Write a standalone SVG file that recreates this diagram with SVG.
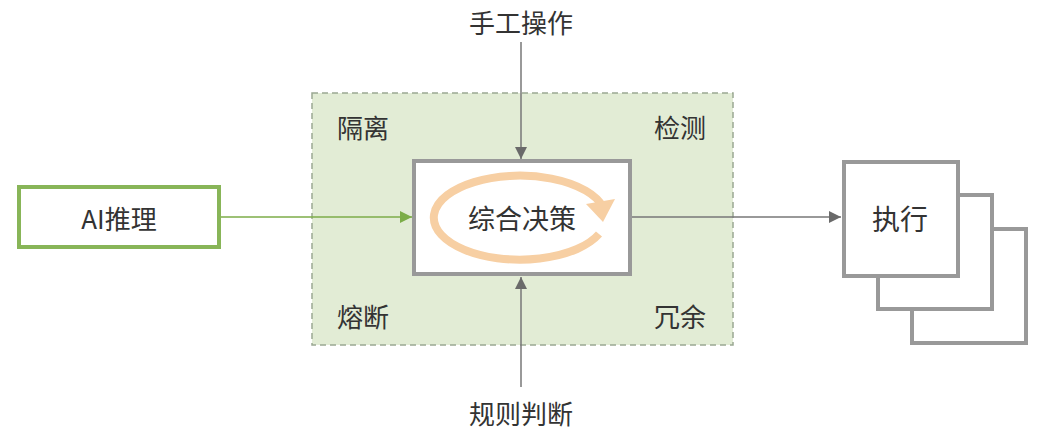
<svg xmlns="http://www.w3.org/2000/svg" width="1038" height="434" viewBox="0 0 1038 434">
<defs>
<style>
text{font-family:"Noto Sans CJK SC","Liberation Sans",sans-serif;fill:#333;text-anchor:middle;dominant-baseline:central}
.lbl{font-size:26px}
.box{fill:#fff;stroke:#999;stroke-width:4}
.conn{stroke:#777;stroke-width:1.5;fill:none}
</style>
<marker id="ag" viewBox="0 0 10 10" refX="10" refY="5" markerWidth="12" markerHeight="12" markerUnits="userSpaceOnUse" orient="auto"><path d="M0,0L10,5L0,10z" fill="#6a6a6a"/></marker>
<marker id="agr" viewBox="0 0 10 10" refX="10" refY="5" markerWidth="12" markerHeight="12" markerUnits="userSpaceOnUse" orient="auto"><path d="M0,0L10,5L0,10z" fill="#7cad48"/></marker>
</defs>
<g id="zone">
<rect x="312" y="93" width="421" height="252" fill="#e2ecd5" stroke="#9aa892" stroke-width="1.5" stroke-dasharray="6,4"/>
<text class="lbl" x="363" y="126">隔离</text>
<text class="lbl" x="680" y="126">检测</text>
<text class="lbl" x="363" y="315">熔断</text>
<text class="lbl" x="680" y="315">冗余</text>
</g>
<g id="connectors">
<line class="conn" x1="521" y1="42" x2="521" y2="159" marker-end="url(#ag)"/>
<line class="conn" x1="521" y1="387" x2="521" y2="277" marker-end="url(#ag)"/>
<line x1="221" y1="217" x2="412" y2="217" stroke="#7cad48" stroke-width="1.5" marker-end="url(#agr)"/>
<line class="conn" x1="630" y1="217" x2="841" y2="217" marker-end="url(#ag)"/>
</g>
<g id="ai">
<rect x="19" y="187" width="200" height="60" fill="#fff" stroke="#88b558" stroke-width="4"/>
<text x="119" y="217" style="font-size:26px">AI推理</text>
</g>
<g id="decision">
<rect class="box" x="414" y="161" width="216" height="113"/>
<path d="M599,234 A86,42 0 1 1 603,207" fill="none" stroke="#f7cfa3" stroke-width="8"/>
<polygon points="586,204 615,199 603,222" fill="#f7cfa3"/>
<text x="522" y="217" style="font-size:27px">综合决策</text>
</g>
<g id="exec">
<rect class="box" x="912" y="229" width="114" height="114"/>
<rect class="box" x="878" y="195" width="114" height="114"/>
<rect class="box" x="844" y="162" width="114" height="114"/>
<text x="900" y="218" style="font-size:28px">执行</text>
</g>
<g id="manual"><text class="lbl" x="521" y="21">手工操作</text></g>
<g id="rules"><text class="lbl" x="521" y="412">规则判断</text></g>
</svg>
